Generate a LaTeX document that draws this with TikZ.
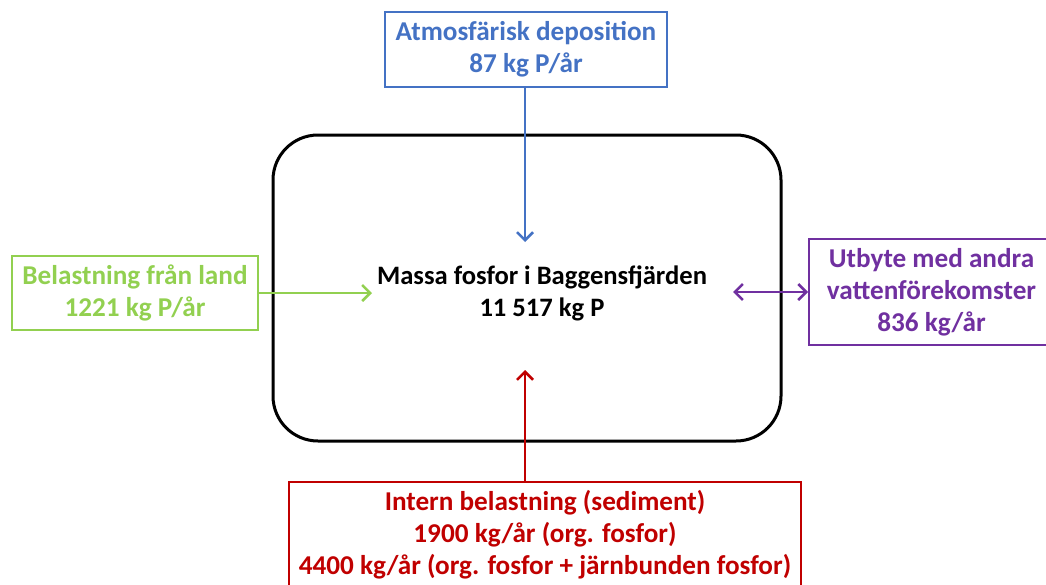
\documentclass[tikz,border=0pt]{standalone}
\usepackage{fontspec}
\setmainfont{Carlito}
\usetikzlibrary{arrows.meta}
\definecolor{cblue}{HTML}{4472C4}
\definecolor{cgreen}{HTML}{92D050}
\definecolor{cpurple}{HTML}{7030A0}
\definecolor{cred}{HTML}{C00000}
\begin{document}
\begin{tikzpicture}[x=1pt,y=-1pt,
  lbl/.style={font=\bfseries\fontsize{27.2}{32}\selectfont, align=center},
  flowbox/.style={lbl, draw, line width=2pt, inner sep=0pt},
  tip/.style={Straight Barb[length=8pt,width=16pt,line width=2.5pt]},
  flow/.style={line width=2.5pt, -{Straight Barb[length=8pt,width=16pt,line width=2.5pt]}},
  flowboth/.style={line width=2.5pt, {Straight Barb[length=8pt,width=16pt,line width=2.5pt]}-{Straight Barb[length=8pt,width=16pt,line width=2.5pt]}}]
\useasboundingbox (0,0) rectangle (1046,584);
\node[draw, line width=3pt, rounded corners=45pt, minimum width=508pt, minimum height=306pt] (main) at (527,288) {};
\node[lbl, font=\bfseries\fontsize{26.6}{32}\selectfont] (mtext) at (542,293) {Massa fosfor i Baggensfjärden\\11 517 kg P};
\node[flowbox, cblue, minimum width=282pt, minimum height=75pt] (atm) at (526,49.5) {Atmosfärisk deposition\\87 kg P/år};
\node[flowbox, cgreen, minimum width=246pt, minimum height=74pt] (land) at (135,293) {Belastning från land\\1221 kg P/år};
\node[flowbox, cpurple, minimum width=245pt, minimum height=106pt] (utb) at (931.5,292) {Utbyte med andra\\vattenförekomster\\836 kg/år};
\node[flowbox, cred, minimum width=512pt, minimum height=106pt] (intern) at (545,535) {Intern belastning (sediment)\\1900 kg/år (org. fosfor)\\4400 kg/år (org. fosfor + järnbunden fosfor)};
\coordinate (atmEnd) at (525,242);
\coordinate (landEnd) at (372,293);
\coordinate (utbEnd) at (733,292);
\coordinate (internEnd) at (525,370);
\draw[flow, cblue] (atm.south -| atmEnd) -- (atmEnd);
\draw[flow, cgreen] (land.east) -- (landEnd);
\draw[flowboth, cpurple] (utbEnd) -- (utb.west);
\draw[flow, cred] (intern.north -| internEnd) -- (internEnd);
\end{tikzpicture}
\end{document}
